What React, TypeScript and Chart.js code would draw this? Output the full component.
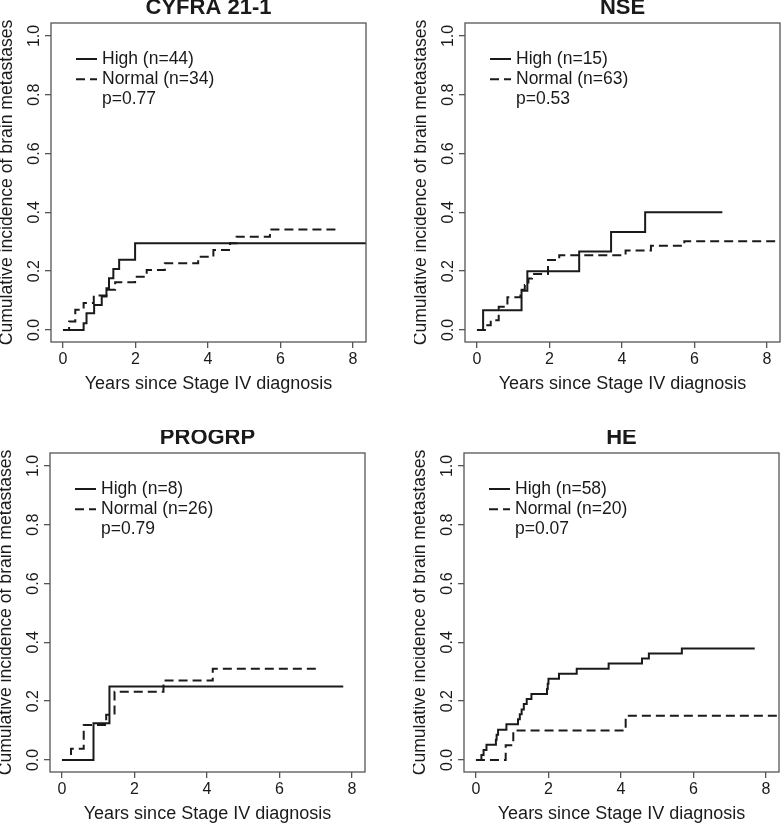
import React, { useEffect, useRef } from 'react';
import { Chart, registerables } from 'chart.js';

Chart.register(...registerables);

const FONT_FAMILY = "'Liberation Sans', Arial, Helvetica, sans-serif";
const INK = '#1a1a1a';
const AXIS_GREY = '#555555';

// ---------------- data ----------------
const panelTitles = ['CYFRA 21-1', 'NSE', 'PROGRP', 'HE'];
const highCounts = [44, 15, 8, 58];
const normalCounts = [34, 63, 26, 20];
const pValues = ['0.77', '0.53', '0.79', '0.07'];
const xTickValues = [0, 2, 4, 6, 8];
const yTickValues = [0, 0.2, 0.4, 0.6, 0.8, 1.0];
const xAxisTitle = 'Years since Stage IV diagnosis';
const yAxisTitle = 'Cumulative incidence of brain metastases';

// CYFRA 21-1
const cyfraHighYears = [0, 0.57, 0.65, 0.86, 1.07, 1.2, 1.27, 1.39, 1.55, 1.99, 8.4];
const cyfraHighCum = [0, 0.023, 0.057, 0.085, 0.114, 0.142, 0.176, 0.207, 0.239, 0.295, 0.295];
const cyfraNormalYears = [0, 0.17, 0.34, 0.57, 0.85, 1.2, 1.44, 1.99, 2.31, 2.81, 3.73, 4.15, 4.61, 4.79, 5.71, 7.64];
const cyfraNormalCum = [0, 0.029, 0.069, 0.092, 0.117, 0.137, 0.162, 0.181, 0.204, 0.227, 0.249, 0.272, 0.295, 0.317, 0.342, 0.342];

// NSE
const nseHighYears = [0, 0.17, 1.23, 1.39, 2.82, 3.7, 4.64, 6.77];
const nseHighCum = [0, 0.067, 0.133, 0.2, 0.267, 0.333, 0.4, 0.4];
const nseNormalYears = [0, 0.22, 0.38, 0.6, 0.84, 1.2, 1.32, 1.42, 1.52, 1.96, 2.27, 4.1, 4.8, 5.72, 8.4];
const nseNormalCum = [0, 0.016, 0.033, 0.079, 0.111, 0.137, 0.153, 0.175, 0.19, 0.238, 0.254, 0.27, 0.286, 0.302, 0.302];

// PROGRP
const progrpHighYears = [0, 0.87, 1.31, 7.76];
const progrpHighCum = [0, 0.125, 0.25, 0.25];
const progrpNormalYears = [0, 0.25, 0.6, 1.22, 1.45, 2.8, 4.16, 7.03];
const progrpNormalCum = [0, 0.038, 0.119, 0.154, 0.232, 0.27, 0.31, 0.31];

// HE
const heHighYears = [0, 0.15, 0.21, 0.29, 0.55, 0.57, 0.61, 0.84, 1.16, 1.21, 1.26, 1.32, 1.4, 1.53, 1.96, 1.98, 2.0, 2.29, 2.78, 3.66, 4.58, 4.77, 5.68, 7.69];
const heHighCum = [0, 0.017, 0.034, 0.052, 0.069, 0.086, 0.103, 0.121, 0.138, 0.155, 0.172, 0.19, 0.207, 0.224, 0.241, 0.259, 0.276, 0.293, 0.31, 0.328, 0.345, 0.362, 0.379, 0.379];
const heNormalYears = [0, 0.82, 1.03, 4.13, 8.4];
const heNormalCum = [0, 0.05, 0.1, 0.15, 0.15];

const highYears = [cyfraHighYears, nseHighYears, progrpHighYears, heHighYears];
const highCum = [cyfraHighCum, nseHighCum, progrpHighCum, heHighCum];
const normalYears = [cyfraNormalYears, nseNormalYears, progrpNormalYears, heNormalYears];
const normalCum = [cyfraNormalCum, nseNormalCum, progrpNormalCum, heNormalCum];

// ---------------- layout ----------------
const CANVAS_W = 368;
const CANVAS_H = 393;
const panelPos = [
  { left: 0, top: 0 },
  { left: 414, top: 0 },
  { left: -1, top: 430 },
  { left: 413, top: 430 },
];
const X_MIN = -0.33;
const X_MAX = 8.36;
const Y_MIN = -0.041;
const Y_MAX = 1.044;

const toPoints = (xs: number[], ys: number[]) => xs.map((x, k) => ({ x, y: ys[k] }));

const frameBoxPlugin = {
  id: 'frameBox',
  afterDatasetsDraw(chart: any) {
    const { ctx, chartArea } = chart;
    const { left, top, right, bottom } = chartArea;
    ctx.save();
    ctx.strokeStyle = AXIS_GREY;
    ctx.lineWidth = 1.3;
    ctx.setLineDash([]);
    ctx.strokeRect(left, top, right - left, bottom - top);
    ctx.restore();
  },
};

const kmLegendPlugin = {
  id: 'kmLegend',
  afterDraw(chart: any, _args: any, opts: any) {
    const { ctx, chartArea } = chart;
    const rows = chart.data.datasets.map((ds: any) => ({
      text: ds.label,
      dash: ds.borderDash || [],
      width: ds.borderWidth,
      color: ds.borderColor,
    }));
    rows.push({ text: opts.note, dash: [], width: 0, color: INK });
    ctx.save();
    ctx.font = `17.5px ${FONT_FAMILY}`;
    ctx.textBaseline = 'middle';
    ctx.textAlign = 'left';
    rows.forEach((r: any, k: number) => {
      const y = chartArea.top + 36 + k * 20.3;
      if (r.width > 0) {
        ctx.beginPath();
        ctx.setLineDash(r.dash);
        ctx.lineWidth = r.width;
        ctx.strokeStyle = r.color;
        ctx.moveTo(chartArea.left + 25, y);
        ctx.lineTo(chartArea.left + 46, y);
        ctx.stroke();
      }
      ctx.fillStyle = INK;
      ctx.fillText(r.text, chartArea.left + 51, y);
    });
    ctx.restore();
  },
};

function makeConfig(i: number): any {
  const lineBase = {
    showLine: true,
    stepped: 'before',
    borderColor: INK,
    backgroundColor: INK,
    borderWidth: 2,
    pointRadius: 0,
    fill: false,
    clip: 0,
  };
  return {
    type: 'line',
    data: {
      datasets: [
        { ...lineBase, label: `High (n=${highCounts[i]})`, data: toPoints(highYears[i], highCum[i]), borderDash: [] },
        { ...lineBase, label: `Normal (n=${normalCounts[i]})`, data: toPoints(normalYears[i], normalCum[i]), borderDash: [9, 5] },
      ],
    },
    options: {
      animation: false,
      responsive: false,
      devicePixelRatio: 1,
      events: [],
      layout: { padding: { left: 0, right: 2, top: 0, bottom: 0 } },
      plugins: {
        legend: { display: false },
        tooltip: { enabled: false },
        title: {
          display: true,
          fullSize: false,
          text: panelTitles[i],
          color: INK,
          font: { size: 22, weight: 'bold', lineHeight: 1 },
          padding: { top: -2.9, bottom: 3.9 },
        },
        kmLegend: { note: `p=${pValues[i]}` },
      },
      scales: {
        x: {
          type: 'linear',
          min: X_MIN,
          max: X_MAX,
          afterBuildTicks: (s: any) => {
            s.ticks = xTickValues.map((value) => ({ value }));
          },
          afterFit: (s: any) => {
            s.height = 51;
            s.paddingLeft = 0;
            s.paddingRight = 0;
          },
          ticks: {
            autoSkip: false,
            minRotation: 0,
            maxRotation: 0,
            padding: 2.4,
            color: INK,
            font: { size: 16, lineHeight: 1.2 },
            callback: (v: any) => String(v),
          },
          grid: { drawOnChartArea: false, drawTicks: true, tickLength: 6, color: AXIS_GREY, lineWidth: 1.3 },
          border: { display: false },
          title: { display: true, text: xAxisTitle, color: INK, font: { size: 18, lineHeight: 1 }, padding: 0 },
        },
        y: {
          type: 'linear',
          min: Y_MIN,
          max: Y_MAX,
          afterBuildTicks: (s: any) => {
            s.ticks = yTickValues.map((value) => ({ value }));
          },
          afterFit: (s: any) => {
            s.width = 51;
            s.paddingTop = 0;
            s.paddingBottom = 0;
          },
          ticks: {
            autoSkip: false,
            minRotation: 90,
            maxRotation: 90,
            crossAlign: 'center',
            padding: -1,
            color: INK,
            font: { size: 16 },
            callback: (v: any) => Number(v).toFixed(1),
          },
          grid: { drawOnChartArea: false, drawTicks: true, tickLength: 6, color: AXIS_GREY, lineWidth: 1.3 },
          border: { display: false },
          title: { display: true, text: yAxisTitle, color: INK, font: { size: 17.6, lineHeight: 0.8 }, padding: 0 },
        },
      },
    },
    plugins: [frameBoxPlugin, kmLegendPlugin],
  };
}

export default function App() {
  const refs = [
    useRef<HTMLCanvasElement>(null),
    useRef<HTMLCanvasElement>(null),
    useRef<HTMLCanvasElement>(null),
    useRef<HTMLCanvasElement>(null),
  ];

  useEffect(() => {
    Chart.defaults.font.family = FONT_FAMILY;
    Chart.defaults.color = INK;
    const charts = refs.map((r, i) => new Chart(r.current as HTMLCanvasElement, makeConfig(i)));
    return () => charts.forEach((c) => c.destroy());
  }, []);

  return (
    <div style={{ position: 'absolute', left: 0, top: 0, width: 782, height: 823, overflow: 'hidden', background: '#fff' }}>
      {panelPos.map((p, i) => (
        <canvas
          key={i}
          ref={refs[i]}
          width={CANVAS_W}
          height={CANVAS_H}
          style={{ position: 'absolute', left: p.left, top: p.top, width: CANVAS_W, height: CANVAS_H }}
        />
      ))}
    </div>
  );
}
